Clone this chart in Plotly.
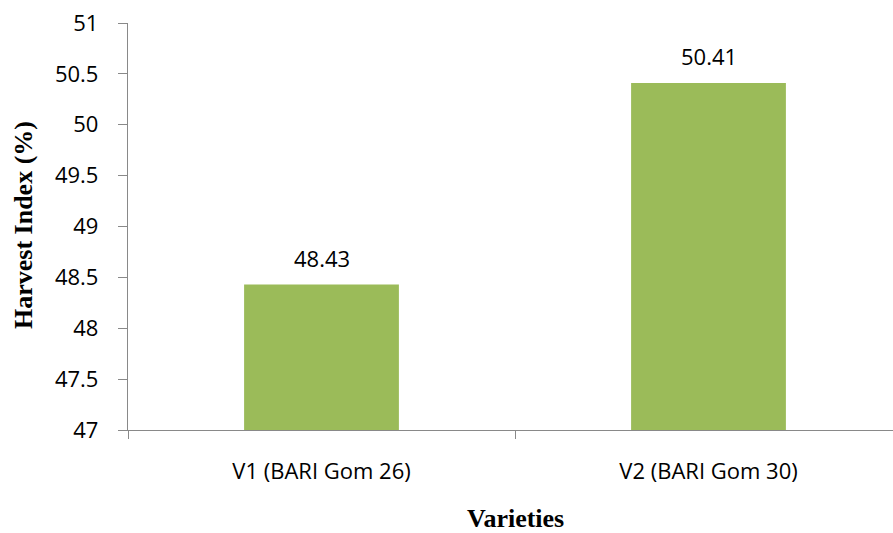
import plotly.graph_objects as go

# Harvest index of two wheat varieties
varieties = ["V1 (BARI Gom 26)", "V2 (BARI Gom 30)"]
harvest_index = [48.43, 50.41]
y_ticks = [47, 47.5, 48, 48.5, 49, 49.5, 50, 50.5, 51]
y_tick_text = ["47", "47.5", "48", "48.5", "49", "49.5", "50", "50.5", "51"]

BAR_COLOR = "#9BBB59"
AXIS_COLOR = "#898989"
TICK_FONT = dict(family="Open Sans, Lato, sans-serif", size=22, color="#000000")
TITLE_FONT = dict(family="Liberation Serif, Times New Roman, serif", size=26, color="#000000")

W, H = 893, 533
L, R, T, B = 128, 0, 23, 103
plot_w = W - L - R
cat_px = 387  # pixel spacing between category centres

fig = go.Figure()
fig.add_trace(go.Bar(
    x=varieties,
    y=harvest_index,
    marker=dict(color=BAR_COLOR, line=dict(width=0)),
    width=0.4,
    hoverinfo="x+y",
))

# value labels above each bar
for name, val in zip(varieties, harvest_index):
    fig.add_annotation(
        x=name, y=val, xref="x", yref="y",
        text=f"{val:.2f}", showarrow=False,
        yanchor="middle", yshift=27,
        font=TICK_FONT,
    )

# axis titles
fig.add_annotation(
    xref="paper", yref="paper", x=(515 - L) / plot_w, y=0,
    yanchor="middle", yshift=-88,
    text="<b>Varieties</b>", showarrow=False, font=TITLE_FONT,
)
fig.add_annotation(
    xref="paper", yref="paper", x=0, y=(430 - 225) / (H - T - B),
    xanchor="center", xshift=-(L - 23), textangle=-90,
    text="<b>Harvest Index (%)</b>", showarrow=False, font=TITLE_FONT,
)

fig.update_layout(
    width=W, height=H,
    margin=dict(l=L, r=R, t=T, b=B, pad=0),
    paper_bgcolor="white", plot_bgcolor="white",
    showlegend=False,
    xaxis=dict(
        type="category",
        range=[-0.5, -0.5 + plot_w / cat_px],
        showline=True, linecolor=AXIS_COLOR, linewidth=1.3,
        ticks="outside", tickson="boundaries", ticklen=8,
        tickcolor=AXIS_COLOR, tickwidth=1.3,
        showgrid=False, zeroline=False,
        tickfont=TICK_FONT, ticklabelstandoff=21,
    ),
    yaxis=dict(
        range=[47, 51],
        tickvals=y_ticks, ticktext=y_tick_text,
        showline=True, linecolor=AXIS_COLOR, linewidth=1.3,
        ticks="outside", ticklen=9, tickcolor=AXIS_COLOR, tickwidth=1.3,
        showgrid=False, zeroline=False,
        tickfont=TICK_FONT, ticklabelstandoff=15,
    ),
)

fig.write_html("out.html")
